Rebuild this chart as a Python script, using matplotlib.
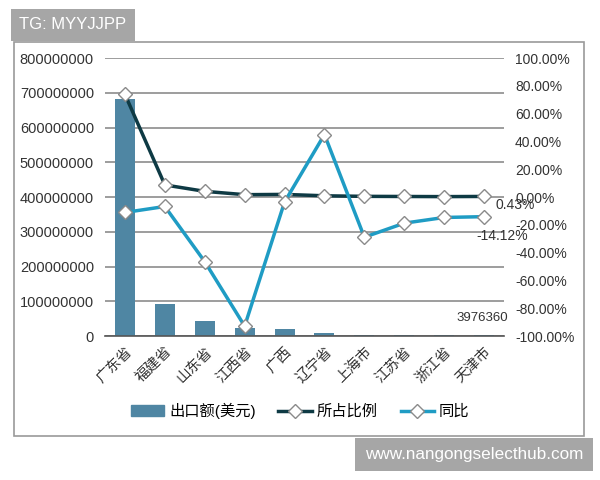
import matplotlib.pyplot as plt
from matplotlib.patches import Rectangle
from matplotlib.lines import Line2D
from matplotlib.ticker import FuncFormatter

plt.rcParams['font.family'] = ['Liberation Sans', 'Noto Sans CJK SC', 'DejaVu Sans']

provinces = ["广东省", "福建省", "山东省", "江西省", "广西", "辽宁省", "上海市", "江苏省", "浙江省", "天津市"]
export_usd = [682000000, 93000000, 44000000, 22000000, 21000000, 8000000, 4000000, 3500000, 2000000, 3976360]
share = [0.739, 0.087, 0.041, 0.017, 0.019, 0.009, 0.005, 0.004, 0.003, 0.0043]
yoy = [-0.111, -0.068, -0.465, -0.929, -0.036, 0.45, -0.289, -0.188, -0.147, -0.1412]

bar_color = "#4f86a3"
dark_color = "#0e3a44"
light_color = "#1f9cc4"

fig = plt.figure(figsize=(6, 4.8), dpi=100)
ax = fig.add_axes([0.175, 0.30, 0.665, 0.579])
ax2 = ax.twinx()

x = range(len(provinces))
ax.bar(x, export_usd, width=0.5, color=bar_color, zorder=2)
ax.set_ylim(0, 800000000)
ax.set_xlim(-0.5, len(provinces) - 0.5)
ax.set_yticks(range(0, 800000001, 100000000))
ax.yaxis.set_major_formatter(FuncFormatter(lambda v, p: f"{int(v)}"))
ax.grid(axis="y", color="#8c8c8c", linewidth=1.2, zorder=0)
ax.set_axisbelow(True)
ax.set_xticks(list(x))
ax.set_xticklabels(provinces, rotation=45, ha="right", rotation_mode="anchor", fontsize=10.5, color="#333333")
ax.tick_params(axis="both", length=0, labelsize=10.5, colors="#333333", pad=8)
ax.tick_params(axis="x", pad=6)
for s in ["top", "right", "left"]:
    ax.spines[s].set_visible(False)
ax.spines["bottom"].set_color("#555555")
ax.spines["bottom"].set_linewidth(1.2)

mk = dict(marker="D", markersize=7, markerfacecolor="white", markeredgecolor="#8a8a8a", markeredgewidth=1)
ax2.plot(x, share, color=dark_color, linewidth=2.5, zorder=3, **mk)
ax2.plot(x, yoy, color=light_color, linewidth=2.5, zorder=3, **mk)
ax2.set_ylim(-1, 1)
ax2.set_yticks([i / 10 for i in range(-10, 11, 2)])
ax2.yaxis.set_major_formatter(FuncFormatter(lambda v, p: f"{v * 100:.2f}%"))
ax2.tick_params(axis="y", length=0, labelsize=10, colors="#333333", pad=8)
for s in ["top", "right", "left", "bottom"]:
    ax2.spines[s].set_visible(False)

# data labels for the last province, as in the original
ax2.annotate(f"{share[-1] * 100:.2f}%", xy=(9, share[-1]), xytext=(8, -6), textcoords="offset points",
             ha="left", va="center", fontsize=10, color="#333333")
ax2.annotate(f"{yoy[-1] * 100:.2f}%", xy=(9, yoy[-1]), xytext=(13, -14), textcoords="offset points",
             ha="center", va="center", fontsize=10, color="#333333")
ax.annotate(f"{export_usd[-1]}", xy=(9, export_usd[-1]), xytext=(-1, 12), textcoords="offset points",
            ha="center", va="center", fontsize=9.5, color="#333333")

handles = [
    Rectangle((0, 0), 1, 1, color=bar_color),
    Line2D([], [], color=dark_color, linewidth=2.5, **mk),
    Line2D([], [], color=light_color, linewidth=2.5, **mk),
]
fig.legend(handles, ["出口额(美元)", "所占比例", "同比"], loc="center", bbox_to_anchor=(0.5, 0.144),
           ncol=3, frameon=False, fontsize=11, handlelength=2.2, columnspacing=1.5, handletextpad=0.3)

fig.patches.append(Rectangle((0.0233, 0.0917), 0.95, 0.821, transform=fig.transFigure,
                             fill=False, edgecolor="#9a9a9a", linewidth=1.2))
fig.text(0.032, 0.948, "TG: MYYJJPP", fontsize=12, color="white", va="center", ha="left",
         bbox=dict(boxstyle="square,pad=0.5", facecolor="#a6a6a6", edgecolor="none"))
fig.text(0.608, 0.053, "www.nangongselecthub.com", fontsize=12.3, color="white", va="center", ha="left",
         bbox=dict(boxstyle="square,pad=0.55", facecolor="#a6a6a6", edgecolor="none"))

fig.savefig("out.png", dpi=100, facecolor="white")
